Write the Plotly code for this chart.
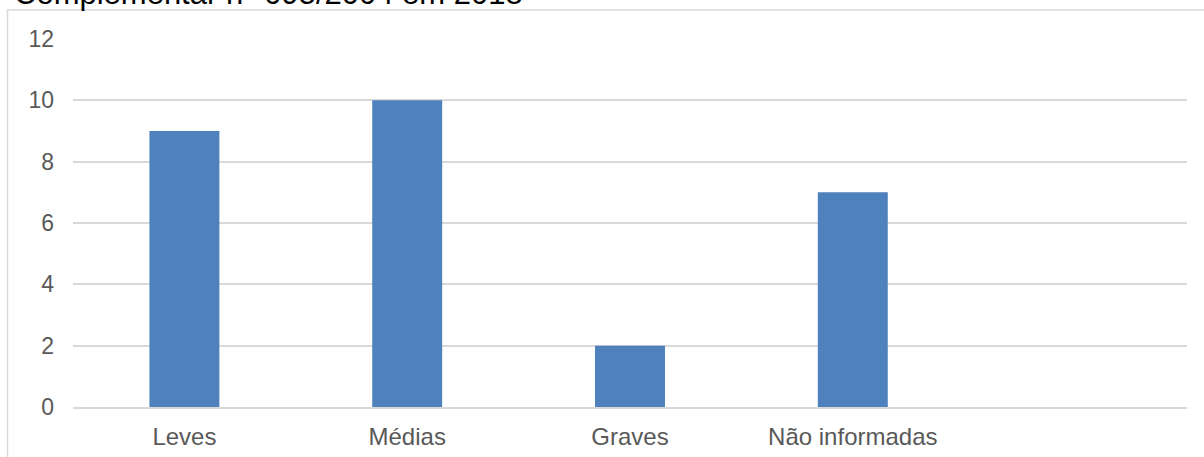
import plotly.graph_objects as go

# Ocorrências por gravidade
categorias = ["Leves", "Médias", "Graves", "Não informadas"]
valores = [9, 10, 2, 7]
y_ticks = [0, 2, 4, 6, 8, 10, 12]
titulo = "Complementar n° 095/2004 em 2018"

W, H = 1204, 457
ML, MR, MT, MB = 73, 17, 39, 50
plot_w = W - ML - MR
plot_h = H - MT - MB

fonte = "Arial, 'Liberation Sans', sans-serif"
cinza_txt = "#595959"
cinza_grade = "#D9D9D9"

posicoes = list(range(len(categorias)))

fig = go.Figure(
    go.Bar(
        x=posicoes,
        y=valores,
        marker=dict(color="#4F81BD", line=dict(width=0)),
        hoverinfo="skip",
    )
)

fig.update_layout(
    width=W,
    height=H,
    margin=dict(l=ML, r=MR, t=MT, b=MB, pad=0, autoexpand=False),
    paper_bgcolor="white",
    plot_bgcolor="white",
    bargap=0.686,
    showlegend=False,
    font=dict(family=fonte, color=cinza_txt, size=24),
)

fig.update_xaxes(
    range=[-0.5, 4.5],
    tickmode="array",
    tickvals=posicoes,
    ticktext=categorias,
    showgrid=False,
    zeroline=False,
    showline=True,
    linecolor=cinza_grade,
    linewidth=1.5,
    ticks="",
    ticklabelstandoff=7,
    automargin=False,
    tickfont=dict(size=24, color=cinza_txt, family=fonte),
)

fig.update_yaxes(
    range=[0, 12],
    tickmode="array",
    tickvals=y_ticks,
    showgrid=True,
    gridcolor=cinza_grade,
    gridwidth=1.5,
    zeroline=False,
    showline=False,
    ticks="",
    ticklabelstandoff=18,
    automargin=False,
    tickfont=dict(size=23, color=cinza_txt, family=fonte),
)

# moldura da área do gráfico (ultrapassa a borda direita e inferior)
fig.add_shape(
    type="rect",
    xref="paper",
    yref="paper",
    x0=(7.5 - ML) / plot_w,
    x1=1.2,
    y0=-0.5,
    y1=(H - MB - 10) / plot_h,
    line=dict(color=cinza_grade, width=1.5),
    fillcolor="rgba(0,0,0,0)",
    layer="below",
)

# título, parcialmente acima da página
fig.add_annotation(
    text=titulo,
    xref="paper",
    yref="paper",
    x=(12 - ML) / plot_w,
    y=1,
    xanchor="left",
    yanchor="bottom",
    yshift=26,
    showarrow=False,
    font=dict(size=31, color="black", family=fonte),
)

fig.write_html("out.html")
